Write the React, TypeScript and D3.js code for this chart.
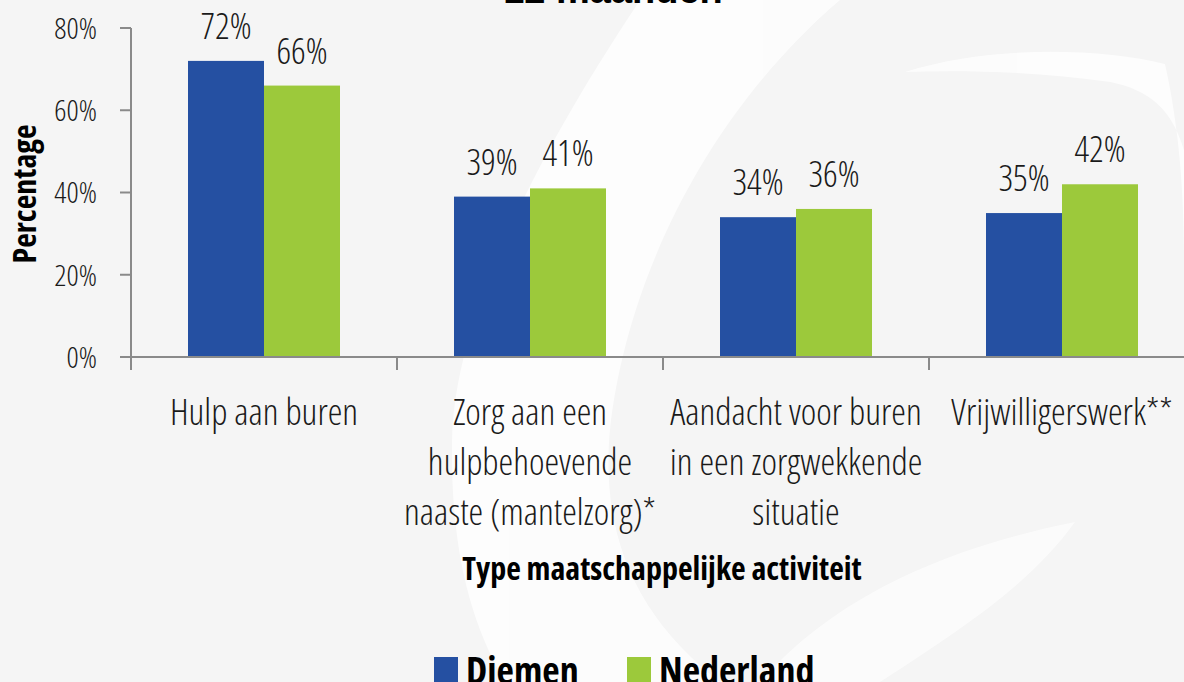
import React from "react";
import * as d3 from "d3";

const categories = [
  ["Hulp aan buren"],
  ["Zorg aan een", "hulpbehoevende", "naaste (mantelzorg)*"],
  ["Aandacht voor buren", "in een zorgwekkende", "situatie"],
  ["Vrijwilligerswerk**"],
];
const categoryKeys = ["hulp", "zorg", "aandacht", "vrijwillig"];
const series = ["Diemen", "Nederland"];
const diemen = [0.72, 0.39, 0.34, 0.35];
const nederland = [0.66, 0.41, 0.36, 0.42];
const yTicks = [0, 0.2, 0.4, 0.6, 0.8];
const colors = ["#2550A2", "#9CC93B"];

const W = 1184;
const H = 682;
const FONT = "'Open Sans', 'DejaVu Sans Condensed', sans-serif";

export default function App() {
  const y = d3.scaleLinear().domain([0, 0.8]).range([357, 28]);
  const x = d3.scaleBand<string>().domain(categoryKeys).range([131, 131 + 266 * 4]).padding(0);
  const xs = d3.scaleBand<string>().domain(series).range([-76, 76]).padding(0);
  const values = [diemen, nederland];
  const pct = d3.format(".0%");

  const light: React.CSSProperties = { fontFamily: FONT, fontWeight: 300, fontStretch: "condensed" };
  const bold: React.CSSProperties = { fontFamily: FONT, fontWeight: 700, fontStretch: "condensed" };

  return (
    <svg width={W} height={H} style={{ position: "fixed", left: 0, top: 0, display: "block" }}>
      <rect x={0} y={0} width={W} height={H} fill="#f5f5f5" />
      {/* faint background swirl */}
      <g fill="#ffffff" opacity={0.75}>
        <path d="M 640 0 C 560 120, 455 300, 452 440 C 450 560, 475 630, 505 682 L 720 682 C 640 620, 600 540, 610 430 C 625 290, 700 120, 840 0 Z" />
        <path d="M 905 72 C 990 45, 1100 48, 1165 64 C 1180 130, 1184 200, 1184 262 L 1184 150 C 1172 110, 1150 90, 1110 82 C 1040 72, 970 70, 905 72 Z" />
        <path d="M 1075 522 C 960 545, 840 590, 760 682 L 880 682 C 960 630, 1030 585, 1075 522 Z" opacity={0.8} />
      </g>

      <text x={613} y={3} textAnchor="middle" style={{ fontFamily: "'Liberation Sans', Arial, sans-serif", fontWeight: 700, fontSize: 38 }} fill="#000">
        12 maanden
      </text>

      {/* bars */}
      {categoryKeys.map((c, i) => (
        <g key={c} transform={`translate(${(x(c) ?? 0) + x.bandwidth() / 2},0)`}>
          {series.map((s, j) => (
            <g key={s}>
              <rect x={xs(s)} y={y(values[j][i])} width={xs.bandwidth()} height={y(0) - y(values[j][i])} fill={colors[j]} />
              <text x={(xs(s) ?? 0) + xs.bandwidth() / 2} y={y(values[j][i]) - 22} textAnchor="middle" style={{ ...light, fontSize: 36 }} fill="#1a1a1a">
                {pct(values[j][i])}
              </text>
            </g>
          ))}
        </g>
      ))}

      {/* y axis */}
      <line x1={131} x2={131} y1={y(0.8)} y2={y(0)} stroke="#8a8a8a" strokeWidth={2} />
      {yTicks.map((t) => (
        <g key={t}>
          <line x1={120} x2={131} y1={y(t)} y2={y(t)} stroke="#8a8a8a" strokeWidth={2} />
          <text x={97} y={y(t)} dy="0.36em" textAnchor="end" style={{ ...light, fontSize: 30 }} fill="#1a1a1a">
            {pct(t)}
          </text>
        </g>
      ))}

      {/* x axis */}
      <line x1={120} x2={W} y1={y(0)} y2={y(0)} stroke="#8a8a8a" strokeWidth={2} />
      {categoryKeys.map((c) => (
        <line key={c} x1={x(c)} x2={x(c)} y1={y(0)} y2={y(0) + 13} stroke="#8a8a8a" strokeWidth={2} />
      ))}
      {categoryKeys.map((c, i) => (
        <text key={c} textAnchor="middle" style={{ ...light, fontSize: 37 }} fill="#1a1a1a">
          {categories[i].map((line, k) => (
            <tspan key={k} x={(x(c) ?? 0) + x.bandwidth() / 2} y={425 + k * 50}>
              {line}
            </tspan>
          ))}
        </text>
      ))}

      <text x={662} y={580} textAnchor="middle" style={{ ...bold, fontSize: 32 }} fill="#000">
        Type maatschappelijke activiteit
      </text>

      <text transform="translate(36,194) rotate(-90)" textAnchor="middle" style={{ ...bold, fontSize: 32 }} fill="#000">
        Percentage
      </text>

      {/* legend */}
      {series.map((s, j) => {
        const lx = [434, 627][j];
        return (
          <g key={s}>
            <rect x={lx} y={657} width={24} height={30} fill={colors[j]} />
            <text x={lx + 32} y={684} style={{ ...bold, fontSize: 38 }} fill="#000">
              {s}
            </text>
          </g>
        );
      })}
    </svg>
  );
}
